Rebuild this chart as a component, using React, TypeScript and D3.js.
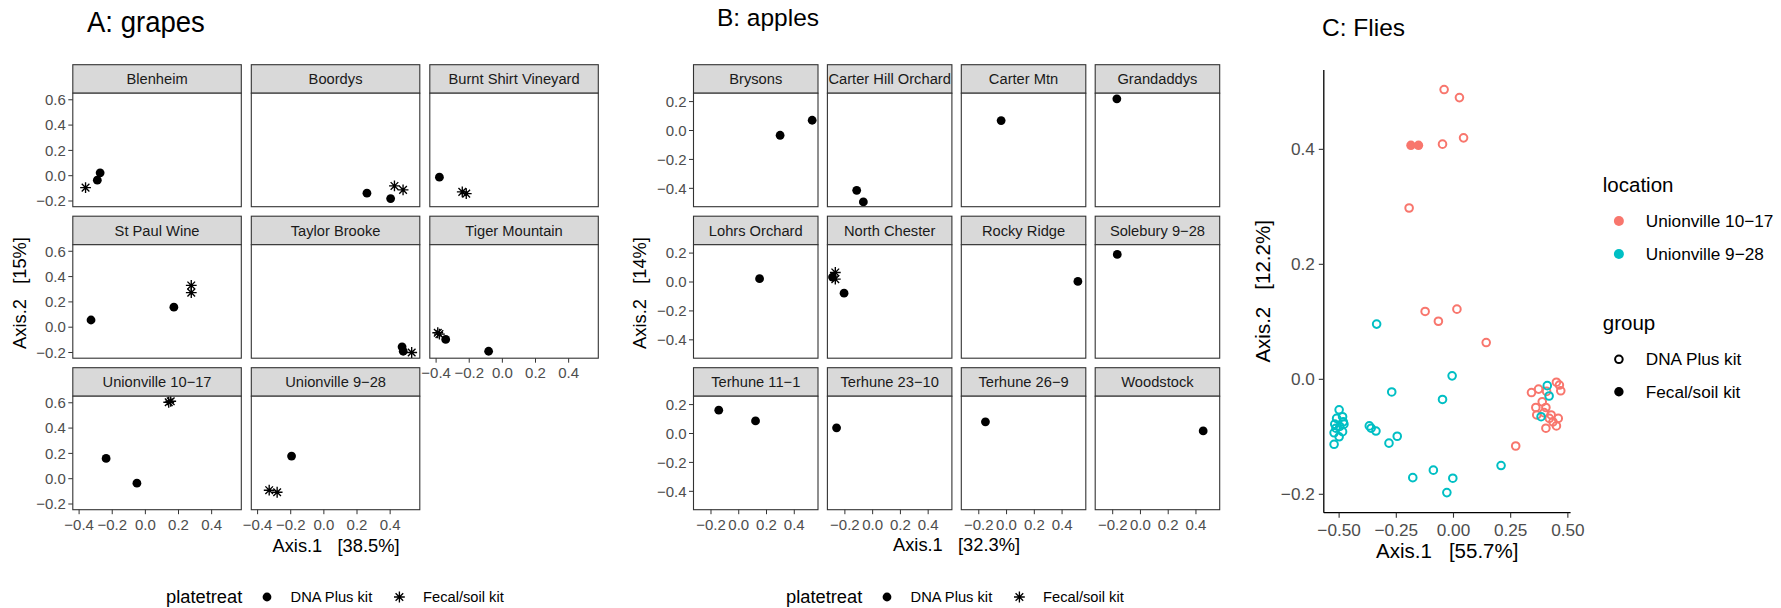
import * as d3 from "d3"

const FONT = "'Liberation Sans', Arial, Helvetica, sans-serif"
const RED = "#F8766D"
const CYAN = "#00BFC4"

// A: grapes
const grapeSites = ["Blenheim", "Boordys", "Burnt Shirt Vineyard", "St Paul Wine", "Taylor Brooke", "Tiger Mountain", "Unionville 10−17", "Unionville 9−28"]
const grapeSite = [
  "Blenheim", "Blenheim", "Blenheim",
  "Boordys", "Boordys", "Boordys", "Boordys",
  "Burnt Shirt Vineyard", "Burnt Shirt Vineyard", "Burnt Shirt Vineyard",
  "St Paul Wine", "St Paul Wine", "St Paul Wine", "St Paul Wine",
  "Taylor Brooke", "Taylor Brooke", "Taylor Brooke",
  "Tiger Mountain", "Tiger Mountain", "Tiger Mountain", "Tiger Mountain",
  "Unionville 10−17", "Unionville 10−17", "Unionville 10−17", "Unionville 10−17",
  "Unionville 9−28", "Unionville 9−28", "Unionville 9−28",
]
const grapeAxis1 = [-0.361, -0.29, -0.273, 0.26, 0.403, 0.426, 0.478, -0.38, -0.242, -0.218, -0.328, 0.172, 0.277, 0.277, 0.472, 0.479, 0.53, -0.39, -0.38, -0.342, -0.083, 0.141, 0.153, -0.237, -0.051, -0.195, -0.33, -0.282]
const grapeAxis2 = [-0.094, -0.035, 0.023, -0.138, -0.181, -0.081, -0.112, -0.012, -0.128, -0.142, 0.057, 0.158, 0.33, 0.273, -0.155, -0.19, -0.2, -0.044, -0.055, -0.097, -0.19, 0.604, 0.612, 0.16, -0.035, 0.179, -0.091, -0.107]
const grapeTreat = ["F", "D", "D", "D", "D", "F", "F", "D", "F", "F", "D", "D", "F", "F", "D", "D", "F", "F", "F", "D", "D", "F", "F", "D", "D", "D", "F", "F"]

// B: apples
const appleSites = ["Brysons", "Carter Hill Orchard", "Carter Mtn", "Grandaddys", "Lohrs Orchard", "North Chester", "Rocky Ridge", "Solebury 9−28", "Terhune 11−1", "Terhune 23−10", "Terhune 26−9", "Woodstock"]
const appleSite = [
  "Brysons", "Brysons", "Carter Hill Orchard", "Carter Hill Orchard", "Carter Mtn", "Grandaddys",
  "Lohrs Orchard", "North Chester", "North Chester", "North Chester", "North Chester",
  "Rocky Ridge", "Solebury 9−28", "Terhune 11−1", "Terhune 11−1", "Terhune 23−10", "Terhune 26−9", "Woodstock",
]
const appleAxis1 = [0.298, 0.529, -0.115, -0.067, -0.039, -0.17, 0.15, -0.269, -0.289, -0.269, -0.206, 0.514, -0.167, -0.144, 0.121, -0.26, -0.152, 0.452]
const appleAxis2 = [-0.033, 0.071, -0.414, -0.494, 0.069, 0.219, 0.023, 0.066, 0.034, 0.02, -0.077, 0.004, 0.191, 0.161, 0.087, 0.039, 0.081, 0.018]
const appleTreat = ["D", "D", "D", "D", "D", "D", "D", "F", "D", "F", "D", "D", "D", "D", "D", "D", "D", "D"]

// C: flies
const flyAxis1 = [
  -0.041, 0.026, -0.048, 0.044, -0.194, -0.124, -0.066, 0.015, 0.143, 0.272,
  0.45, 0.463, 0.469, 0.341, 0.372, 0.407, 0.36, 0.388, 0.404, 0.364, 0.396, 0.427, 0.458, 0.435, 0.45, 0.404, 0.419,
  -0.186, -0.153,
  -0.336, -0.006, -0.27, -0.048, -0.368, -0.36, -0.339, -0.246, -0.282, -0.178, -0.088, -0.003, -0.029, 0.208,
  -0.5, -0.485, -0.482, -0.479, -0.511, -0.519, -0.514, -0.497, -0.522, -0.5, -0.485, -0.522,
  0.41, 0.418, 0.383,
]
const flyAxis2 = [
  0.504, 0.49, 0.409, 0.42, 0.298, 0.118, 0.101, 0.122, 0.064, -0.116,
  -0.005, -0.01, -0.02, -0.023, -0.017, -0.021, -0.049, -0.039, -0.049, -0.062, -0.058, -0.062, -0.068, -0.074, -0.081, -0.085, -0.068,
  0.407, 0.407,
  0.096, 0.006, -0.022, -0.035, -0.081, -0.085, -0.09, -0.099, -0.111, -0.171, -0.158, -0.172, -0.197, -0.15,
  -0.053, -0.065, -0.074, -0.078, -0.068, -0.078, -0.085, -0.082, -0.093, -0.1, -0.091, -0.113,
  -0.011, -0.029, -0.065,
]
const flyLocation = [
  ...Array(27).fill("Unionville 10−17"), "Unionville 10−17", "Unionville 10−17",
  ...Array(29).fill("Unionville 9−28"),
]
const flyGroup = [...Array(27).fill("D"), "F", "F", ...Array(29).fill("D")]

const treatLabels = ["DNA Plus kit", "Fecal/soil kit"]
const locationLabels = ["Unionville 10−17", "Unionville 9−28"]

const asterisk = (r: number) => {
  const d = r / Math.SQRT2
  return `M${-r},0H${r}M0,${-r}V${r}M${-d},${-d}L${d},${d}M${-d},${d}L${d},${-d}`
}

function Marker({ x, y, t }: { x: number; y: number; t: string }) {
  if (t === "F")
    return <path d={asterisk(5.4)} transform={`translate(${x},${y})`} stroke="#000" strokeWidth={1.35} fill="none" />
  return <circle cx={x} cy={y} r={4.4} fill="#000" />
}

function Facets(props: any) {
  const { id, sites, site, ax1, ax2, treat, ncol, left0, colStep, panelW, top0, rowStep, stripH, panelH, xDomain, yDomain, xTicks, yTicks } = props
  const x = d3.scaleLinear().domain(xDomain).range([0, panelW])
  const y = d3.scaleLinear().domain(yDomain).range([panelH, 0])
  const fmt = d3.format(".1f")
  const n = sites.length
  return (
    <g>
      {sites.map((name: string, i: number) => {
        const col = i % ncol
        const row = Math.floor(i / ncol)
        const px = left0 + col * colStep
        const sy = top0 + row * rowStep
        const py = sy + stripH
        const bottom = i + ncol >= n
        const idx = d3.range(site.length).filter((k) => site[k] === name)
        return (
          <g key={name}>
            <clipPath id={`${id}-s${i}`}>
              <rect x={px} y={sy} width={panelW} height={stripH} />
            </clipPath>
            <clipPath id={`${id}-p${i}`}>
              <rect x={px} y={py} width={panelW} height={panelH} />
            </clipPath>
            <rect x={px} y={sy} width={panelW} height={stripH} fill="#D9D9D9" stroke="#333333" strokeWidth={1.1} />
            <text x={px + panelW / 2} y={sy + stripH / 2} dy="0.35em" textAnchor="middle" fontSize={14.7} fill="#1A1A1A" clipPath={`url(#${id}-s${i})`}>
              {name}
            </text>
            <rect x={px} y={py} width={panelW} height={panelH} fill="#fff" />
            <g clipPath={`url(#${id}-p${i})`}>
              {idx.map((k) => (
                <Marker key={k} x={px + x(ax1[k])} y={py + y(ax2[k])} t={treat[k]} />
              ))}
            </g>
            <rect x={px} y={py} width={panelW} height={panelH} fill="none" stroke="#333333" strokeWidth={1.1} />
            {col === 0 &&
              yTicks.map((t: number) => (
                <g key={t}>
                  <line x1={px - 4.5} x2={px} y1={py + y(t)} y2={py + y(t)} stroke="#333333" strokeWidth={1} />
                  <text x={px - 7} y={py + y(t)} dy="0.35em" textAnchor="end" fontSize={15} fill="#4D4D4D">
                    {fmt(t)}
                  </text>
                </g>
              ))}
            {bottom &&
              xTicks.map((t: number) => (
                <g key={t}>
                  <line x1={px + x(t)} x2={px + x(t)} y1={py + panelH} y2={py + panelH + 4.5} stroke="#333333" strokeWidth={1} />
                  <text x={px + x(t)} y={py + panelH + 15} dy="0.35em" textAnchor="middle" fontSize={15} fill="#4D4D4D">
                    {fmt(t)}
                  </text>
                </g>
              ))}
          </g>
        )
      })}
    </g>
  )
}

function TreatLegend({ x0 }: { x0: number }) {
  const cy = 597
  return (
    <g>
      <text x={x0} y={cy} dy="0.35em" fontSize={18.3} fill="#000">platetreat</text>
      <Marker x={x0 + 101} y={cy} t="D" />
      <text x={x0 + 124.6} y={cy} dy="0.35em" fontSize={14.7} fill="#000">{treatLabels[0]}</text>
      <Marker x={x0 + 233.4} y={cy} t="F" />
      <text x={x0 + 257} y={cy} dy="0.35em" fontSize={14.7} fill="#000">{treatLabels[1]}</text>
    </g>
  )
}

function Flies() {
  const left = 1323.8, right = 1570.6, top = 70, bottom = 512.7
  const x = d3.scaleLinear().domain([-0.567, 0.512]).range([left, right])
  const y = d3.scaleLinear().domain([-0.232, 0.538]).range([bottom, top])
  const color = d3.scaleOrdinal<string, string>().domain(locationLabels).range([RED, CYAN])
  const xTicks = [-0.5, -0.25, 0, 0.25, 0.5]
  const yTicks = [-0.2, 0, 0.2, 0.4]
  const lx = 1602.8
  return (
    <g>
      <text x={1322} y={36} fontSize={24.5} fill="#000">C: Flies</text>
      {flyAxis1.map((v, i) =>
        flyGroup[i] === "F" ? (
          <circle key={i} cx={x(v)} cy={y(flyAxis2[i])} r={4.7} fill={color(flyLocation[i])} />
        ) : (
          <circle key={i} cx={x(v)} cy={y(flyAxis2[i])} r={3.8} fill="none" stroke={color(flyLocation[i])} strokeWidth={2} />
        )
      )}
      <line x1={left} x2={left} y1={top} y2={bottom} stroke="#000" strokeWidth={1.3} />
      <line x1={left} x2={right} y1={bottom} y2={bottom} stroke="#000" strokeWidth={1.3} />
      {yTicks.map((t) => (
        <g key={t}>
          <line x1={left - 5} x2={left} y1={y(t)} y2={y(t)} stroke="#333333" strokeWidth={1.1} />
          <text x={left - 9} y={y(t)} dy="0.35em" textAnchor="end" fontSize={17.2} fill="#4D4D4D">{d3.format(".1f")(t)}</text>
        </g>
      ))}
      {xTicks.map((t) => (
        <g key={t}>
          <line x1={x(t)} x2={x(t)} y1={bottom} y2={bottom + 5} stroke="#333333" strokeWidth={1.1} />
          <text x={x(t)} y={bottom + 17} dy="0.35em" textAnchor="middle" fontSize={17.2} fill="#4D4D4D">{d3.format(".2f")(t)}</text>
        </g>
      ))}
      <text x={(left + right) / 2} y={558.3} textAnchor="middle" fontSize={20.5} fill="#000" style={{ whiteSpace: "pre" }}>
        {"Axis.1   [55.7%]"}
      </text>
      <text transform={`translate(1270,${(top + bottom) / 2}) rotate(-90)`} textAnchor="middle" fontSize={20.5} fill="#000" style={{ whiteSpace: "pre" }}>
        {"Axis.2   [12.2%]"}
      </text>
      <text x={lx} y={192.3} fontSize={20.5} fill="#000">location</text>
      {locationLabels.map((l, i) => (
        <g key={l}>
          <circle cx={lx + 16.1} cy={221 + i * 33} r={5} fill={color(l)} />
          <text x={lx + 43} y={221 + i * 33} dy="0.35em" fontSize={17.2} fill="#000">{l}</text>
        </g>
      ))}
      <text x={lx} y={330} fontSize={20.5} fill="#000">group</text>
      {treatLabels.map((l, i) => (
        <g key={l}>
          {i === 0 ? (
            <circle cx={lx + 16.1} cy={359.3} r={3.8} fill="none" stroke="#000" strokeWidth={2} />
          ) : (
            <circle cx={lx + 16.1} cy={391.7} r={4.7} fill="#000" />
          )}
          <text x={lx + 43} y={359.3 + i * 32.4} dy="0.35em" fontSize={17.2} fill="#000">{l}</text>
        </g>
      ))}
    </g>
  )
}

export default function App() {
  return (
    <svg width={1781} height={608} style={{ position: "absolute", left: 0, top: 0, background: "#fff" }} fontFamily={FONT}>
      <rect width={1781} height={608} fill="#fff" />
      {/* A: grapes */}
      <text transform="translate(87,32) scale(0.95,1)" fontSize={29} fill="#000">A: grapes</text>
      <Facets
        id="ga" sites={grapeSites} site={grapeSite} ax1={grapeAxis1} ax2={grapeAxis2} treat={grapeTreat}
        ncol={3} left0={72.8} colStep={178.5} panelW={168.5} top0={64.7} rowStep={151.5} stripH={28.5} panelH={113.5}
        xDomain={[-0.438, 0.579]} yDomain={[-0.245, 0.652]} xTicks={[-0.4, -0.2, 0, 0.2, 0.4]} yTicks={[-0.2, 0, 0.2, 0.4, 0.6]}
      />
      <text x={336} y={551.7} textAnchor="middle" fontSize={18.3} fill="#000" style={{ whiteSpace: "pre" }}>{"Axis.1   [38.5%]"}</text>
      <text transform="translate(26,293) rotate(-90)" textAnchor="middle" fontSize={18.3} fill="#000" style={{ whiteSpace: "pre" }}>{"Axis.2   [15%]"}</text>
      <TreatLegend x0={166} />

      {/* B: apples */}
      <text x={716.9} y={26} fontSize={24.5} fill="#000">B: apples</text>
      <Facets
        id="ap" sites={appleSites} site={appleSite} ax1={appleAxis1} ax2={appleAxis2} treat={appleTreat}
        ncol={4} left0={693.5} colStep={133.9} panelW={124.5} top0={64.7} rowStep={151.5} stripH={28.5} panelH={113.5}
        xDomain={[-0.326, 0.571]} yDomain={[-0.527, 0.258]} xTicks={[-0.2, 0, 0.2, 0.4]} yTicks={[-0.4, -0.2, 0, 0.2]}
      />
      <text x={956.5} y={550.7} textAnchor="middle" fontSize={18.3} fill="#000" style={{ whiteSpace: "pre" }}>{"Axis.1   [32.3%]"}</text>
      <text transform="translate(646,293) rotate(-90)" textAnchor="middle" fontSize={18.3} fill="#000" style={{ whiteSpace: "pre" }}>{"Axis.2   [14%]"}</text>
      <TreatLegend x0={786} />

      <Flies />
    </svg>
  )
}
